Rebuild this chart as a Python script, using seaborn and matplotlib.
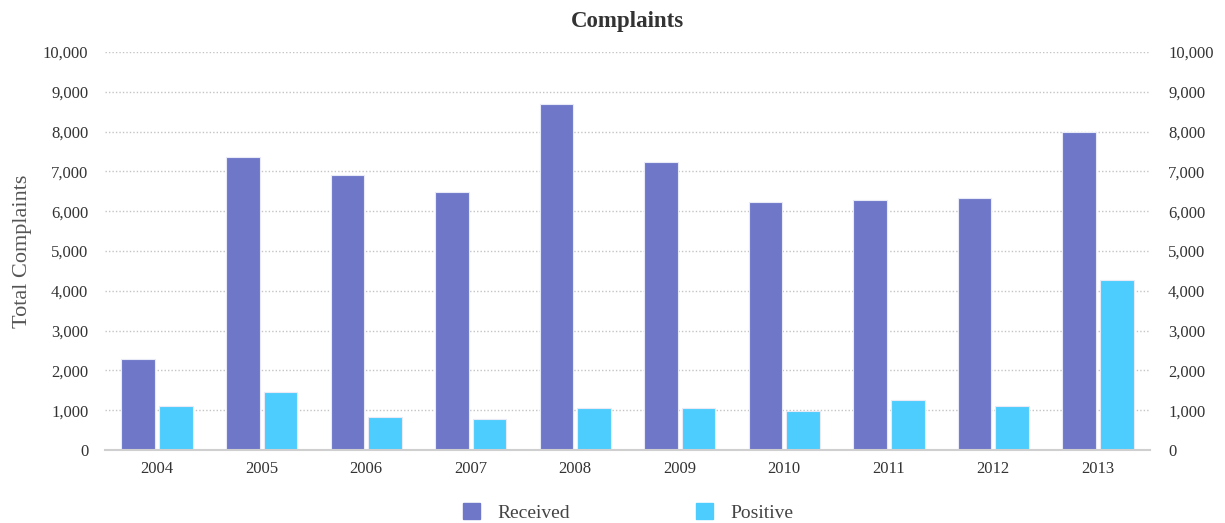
import matplotlib
matplotlib.use("Agg")
import matplotlib.pyplot as plt
from matplotlib.ticker import FuncFormatter
import pandas as pd
import seaborn as sns

# Yearly complaint counts
years = ["2004", "2005", "2006", "2007", "2008", "2009", "2010", "2011", "2012", "2013"]
received = [2290, 7350, 6900, 6470, 8690, 7230, 6240, 6290, 6330, 7980]
positive = [1100, 1450, 820, 780, 1060, 1060, 970, 1250, 1110, 4260]
series_names = ["Received", "Positive"]
series_colors = ["#6f78c8", "#4dcdfd"]
y_ticks = [0, 1000, 2000, 3000, 4000, 5000, 6000, 7000, 8000, 9000, 10000]

df = pd.DataFrame({
    "Year": years * 2,
    "Count": received + positive,
    "Series": [series_names[0]] * len(years) + [series_names[1]] * len(years),
})

sns.set_theme(style="white")
plt.rcParams["font.family"] = ["Liberation Serif", "DejaVu Serif"]

fig = plt.figure(figsize=(12.25, 5.23), dpi=100)
ax = fig.add_axes([0.0857, 0.1396, 0.8531, 0.761])

sns.barplot(
    data=df, x="Year", y="Count", hue="Series", order=years,
    hue_order=series_names, palette=series_colors, width=0.72, gap=0.1,
    edgecolor="#e8eaf8", linewidth=0.8, saturation=1, ax=ax, legend=False,
)

ax.set_ylim(0, 10000)
ax.set_xlim(-0.5, len(years) - 0.5)
ax.set_yticks(y_ticks)
fmt = FuncFormatter(lambda v, _: f"{int(v):,}")
ax.yaxis.set_major_formatter(fmt)
ax.grid(axis="y", linestyle=(0, (1, 1.5)), color="#c4c4c4", linewidth=1)
ax.set_axisbelow(True)
for side in ["top", "left", "right"]:
    ax.spines[side].set_visible(False)
ax.spines["bottom"].set_color("#cfcfcf")
ax.spines["bottom"].set_linewidth(1.5)
ax.tick_params(axis="both", length=0, labelsize=12, labelcolor="#333333")
ax.tick_params(axis="y", pad=12)
ax.tick_params(axis="x", pad=8)
ax.set_xlabel("")
ax.set_ylabel("Total Complaints", fontsize=16, color="#555555", labelpad=8)

# Mirrored value axis on the right
ax2 = ax.twinx()
ax2.set_ylim(ax.get_ylim())
ax2.set_yticks(y_ticks)
ax2.yaxis.set_major_formatter(fmt)
for side in ["top", "left", "right", "bottom"]:
    ax2.spines[side].set_visible(False)
ax2.tick_params(axis="y", length=0, labelsize=12, labelcolor="#333333", pad=13)

fig.text(0.5125, 0.958, "Complaints", ha="center", va="center",
         fontsize=16.5, fontweight="bold", color="#333333")

handles = [plt.Rectangle((0, 0), 1, 1, color=c) for c in series_colors]
fig.legend(handles, series_names, loc="center", bbox_to_anchor=(0.513, 0.02),
           ncol=2, frameon=False, fontsize=14, handlelength=0.85,
           handleheight=0.85, handletextpad=0.9, columnspacing=6.5,
           labelcolor="#444444")

fig.savefig("out.png", dpi=100)
